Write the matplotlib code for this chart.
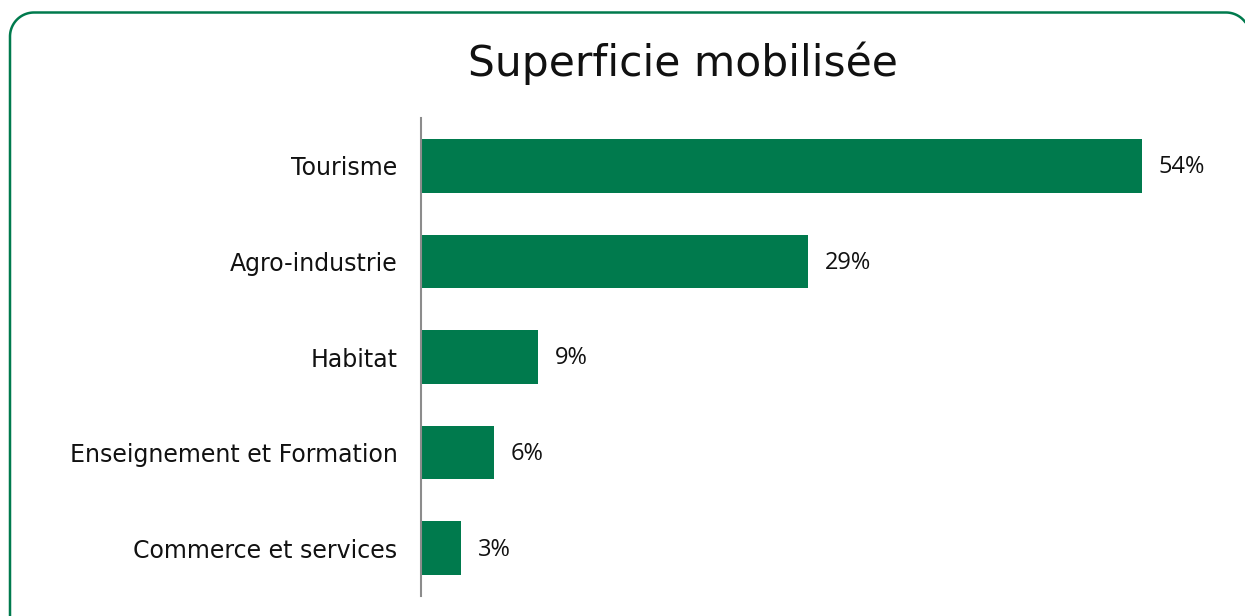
#!/usr/bin/env python3

import matplotlib
matplotlib.use("Agg")
import matplotlib.pyplot as plt
import numpy as np

# data
categories = ["Tourisme", "Agro-industrie", "Habitat",
              "Enseignement et Formation", "Commerce et services"]
values = [54.0, 29.0, 8.8, 5.5, 3.0]
value_labels = ["54%", "29%", "9%", "6%", "3%"]

green = "#007A4D"
title_font = "DejaVu Sans"
label_font = "Open Sans"

W, H = 1245, 616
fig = plt.figure(figsize=(W / 100, H / 100), dpi=100)

# background axes in pixel units for the rounded frame (y measured upwards)
bg = fig.add_axes([0, 0, 1, 1], zorder=0)
bg.set_xlim(0, W)
bg.set_ylim(0, H)
bg.axis("off")

# frame outline: left edge, rounded top-left, top edge, start of top-right
# corner (the rest of the frame runs off the canvas)
r = 24
left, top, right = 10, H - 12.5, 1250
t1 = np.linspace(np.pi, np.pi / 2, 30)
t2 = np.linspace(np.pi / 2, np.radians(35), 30)
fx = np.concatenate([[left], left + r + r * np.cos(t1),
                     right - r + r * np.cos(t2)])
fy = np.concatenate([[-5], top - r + r * np.sin(t1),
                     top - r + r * np.sin(t2)])
bg.plot(fx, fy, color=green, lw=1.8, solid_capstyle="butt")

ax = fig.add_axes([421 / W, 1 - 596 / H, 801 / W, 478 / H], zorder=1)
ax.set_facecolor("none")

y = range(len(categories))
bars = ax.barh(y, values, height=0.56, color=green)
ax.set_ylim(len(categories) - 0.5, -0.5)
ax.set_xlim(0, 60)

for b, lab in zip(bars, value_labels):
    ax.annotate(lab, (b.get_width(), b.get_y() + b.get_height() / 2),
                xytext=(12, -1), textcoords="offset points",
                va="center", ha="left", fontsize=17, family=label_font,
                color="#111111")

ax.set_yticks(list(y))
ax.set_yticklabels(categories, fontsize=17, family=title_font,
                   color="#111111")
ax.tick_params(axis="y", length=0, pad=17)
ax.set_xticks([])
for s in ["top", "right", "bottom"]:
    ax.spines[s].set_visible(False)
ax.spines["left"].set_color("#8c8c8c")
ax.spines["left"].set_linewidth(1.5)

fig.text(683 / W, 1 - 63 / H, "Superficie mobilisée", ha="center",
         va="center", fontsize=30.5, family=title_font, color="#111111")

fig.savefig("out.png", dpi=100)
